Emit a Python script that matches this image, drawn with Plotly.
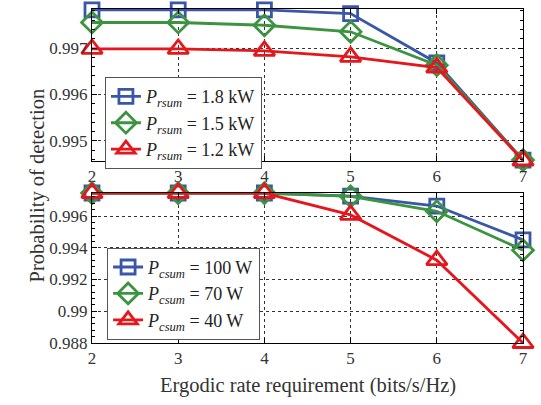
import plotly.graph_objects as go

x = [2, 3, 4, 5, 6, 7]

# Top panel (P_rsum)
top_names = ["1.8 kW", "1.5 kW", "1.2 kW"]
top_18 = [0.99782, 0.99782, 0.99782, 0.99774, 0.99668, 0.99459]
top_15 = [0.99755, 0.99755, 0.99749, 0.99735, 0.99663, 0.99459]
top_12 = [0.99698, 0.99698, 0.99694, 0.99681, 0.99658, 0.99458]

# Bottom panel (P_csum)
bot_names = ["100 W", "70 W", "40 W"]
bot_100 = [0.99745, 0.99745, 0.99745, 0.99726, 0.99663, 0.99450]
bot_70 = [0.99745, 0.99745, 0.99745, 0.99724, 0.99630, 0.99385]
bot_40 = [0.99745, 0.99745, 0.99745, 0.99607, 0.99322, 0.98800]

x_ticks = [2, 3, 4, 5, 6, 7]
top_yticks = [0.995, 0.996, 0.997]
bot_yticks = [0.988, 0.99, 0.992, 0.994, 0.996]
bot_yticklabels = ["0.988", "0.99", "0.992", "0.994", "0.996"]

colors = ["#3a56a8", "#3c9440", "#e5171c"]
symbols = ["square-open", "diamond-open", "triangle-up-open"]
sizes = [14, 16, 18]

FONT = "Liberation Serif"
fig = go.Figure()

for ys, nm, c, s, sz in zip([top_18, top_15, top_12], top_names, colors, symbols, sizes):
    fig.add_trace(go.Scatter(
        x=x, y=ys, mode="lines+markers", xaxis="x", yaxis="y",
        name=f"<i>P</i><sub><i>rsum</i></sub> = {nm}", legend="legend",
        line=dict(color=c, width=2.8),
        marker=dict(symbol=s, size=sz, color=c, line=dict(width=2.8, color=c)),
        cliponaxis=False))

for ys, nm, c, s, sz in zip([bot_100, bot_70, bot_40], bot_names, colors, symbols, sizes):
    fig.add_trace(go.Scatter(
        x=x, y=ys, mode="lines+markers", xaxis="x2", yaxis="y2",
        name=f"<i>P</i><sub><i>csum</i></sub> = {nm}", legend="legend2",
        line=dict(color=c, width=2.8),
        marker=dict(symbol=s, size=sz, color=c, line=dict(width=2.8, color=c)),
        cliponaxis=False))

axis_common = dict(
    showline=True, linecolor="black", linewidth=1, mirror="ticks",
    ticks="inside", ticklen=5, tickcolor="black",
    showgrid=True, gridcolor="rgba(0,0,0,0.8)", griddash="dot", gridwidth=1,
    zeroline=False, tickfont=dict(family=FONT, size=17, color="#333"),
)

fig.update_layout(
    width=541, height=405,
    margin=dict(l=92, r=18, t=9, b=62),
    paper_bgcolor="white", plot_bgcolor="white",
    font=dict(family=FONT, size=17, color="#333"),
    showlegend=True,
    xaxis=dict(domain=[0, 1], range=[2, 7], tickvals=x_ticks, anchor="y", **axis_common),
    yaxis=dict(domain=[0.545, 1], range=[0.99457, 0.99784], tickvals=top_yticks,
               tickformat=".3f", anchor="x",
               minor=dict(ticks="inside", ticklen=3, dtick=0.0002, tickcolor="black", showgrid=False),
               **axis_common),
    xaxis2=dict(domain=[0, 1], range=[2, 7], tickvals=x_ticks, anchor="y2", **axis_common),
    yaxis2=dict(domain=[0, 0.45], range=[0.988, 0.99747], tickvals=bot_yticks,
                ticktext=bot_yticklabels, anchor="x2",
                minor=dict(ticks="inside", ticklen=3, dtick=0.0004, tickcolor="black", showgrid=False),
                **axis_common),
    legend=dict(x=0.03, y=0.796, xanchor="left", yanchor="top", xref="paper", yref="paper",
                bgcolor="white", bordercolor="#555", borderwidth=1,
                font=dict(family=FONT, size=18, color="#222"), tracegroupgap=0),
    legend2=dict(x=0.035, y=0.285, xanchor="left", yanchor="top", xref="paper", yref="paper",
                 bgcolor="white", bordercolor="#555", borderwidth=1,
                 font=dict(family=FONT, size=18, color="#222"), tracegroupgap=0),
    annotations=[
        dict(text="Probability of detection", x=-0.158, y=0.473, xref="paper", yref="paper",
             textangle=-90, showarrow=False, font=dict(family=FONT, size=20.5, color="#333")),
        dict(text="Ergodic rate requirement (bits/s/Hz)", x=0.5, y=-0.126, xref="paper",
             yref="paper", showarrow=False, yanchor="middle",
             font=dict(family=FONT, size=20.5, color="#333")),
    ],
)

fig.write_html("out.html")
